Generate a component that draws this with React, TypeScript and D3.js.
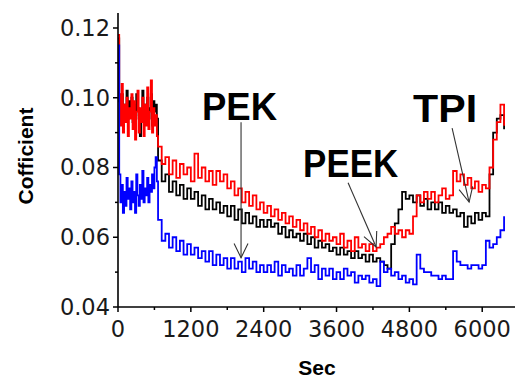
import * as d3 from "d3"

// sample instants (s)
const sampleTimes = [
  0, 20, 40, 60, 80, 100, 120, 140, 160, 180, 200,
  220, 240, 260, 280, 300, 320, 340, 360, 380, 400, 420,
  440, 460, 480, 500, 520, 540, 560, 580, 600, 620, 640,
  660, 720, 780, 840, 900, 960, 1020, 1080, 1140, 1200,
  1260, 1320, 1380, 1440, 1500, 1560, 1620, 1680, 1740, 1800,
  1860, 1920, 1980, 2040, 2100, 2160, 2220, 2280, 2340, 2400,
  2460, 2520, 2580, 2640, 2700, 2760, 2820, 2880, 2940, 3000,
  3060, 3120, 3180, 3240, 3300, 3360, 3420, 3480, 3540, 3600,
  3660, 3720, 3780, 3840, 3900, 3960, 4020, 4080, 4140, 4200,
  4260, 4320, 4380, 4440, 4500, 4560, 4620, 4680, 4740, 4800,
  4860, 4920, 4980, 5040, 5100, 5160, 5220, 5280, 5340, 5400,
  5460, 5520, 5580, 5640, 5700, 5760, 5820, 5880, 5940, 6000,
  6060, 6120, 6180, 6240, 6300, 6360,
]

const pekValues = [
  0.117, 0.099, 0.095, 0.101, 0.093, 0.098, 0.096, 0.102, 0.094, 0.099, 0.097,
  0.1, 0.093, 0.098, 0.095, 0.101, 0.097, 0.094, 0.089, 0.096, 0.102, 0.093,
  0.098, 0.095, 0.1, 0.094, 0.097, 0.101, 0.092, 0.099, 0.096, 0.098, 0.094,
  0.082, 0.076, 0.078, 0.073, 0.076, 0.072, 0.075, 0.071, 0.074, 0.071,
  0.073, 0.069, 0.072, 0.068, 0.071, 0.068, 0.07, 0.067, 0.069, 0.066,
  0.069, 0.065, 0.068, 0.064, 0.067, 0.064, 0.066, 0.063, 0.065, 0.063,
  0.065, 0.063, 0.064, 0.061, 0.063, 0.06, 0.062, 0.06, 0.061, 0.059,
  0.061, 0.058, 0.06, 0.057, 0.059, 0.057, 0.058, 0.056, 0.057, 0.055,
  0.057, 0.055, 0.056, 0.054, 0.056, 0.054, 0.055, 0.053, 0.055, 0.053,
  0.054, 0.053, 0.052, 0.051, 0.058, 0.064, 0.068, 0.073, 0.071, 0.072,
  0.07, 0.072, 0.069, 0.071, 0.068, 0.07, 0.068, 0.07, 0.067, 0.069,
  0.067, 0.068, 0.066, 0.067, 0.063, 0.066, 0.064, 0.067, 0.065, 0.067,
  0.066, 0.078, 0.09, 0.094, 0.095, 0.091,
]

const peekValues = [
  0.118, 0.101, 0.092, 0.104, 0.09, 0.098, 0.093, 0.1, 0.089, 0.097, 0.094,
  0.101, 0.091, 0.099, 0.088, 0.096, 0.102, 0.09, 0.097, 0.093, 0.1, 0.089,
  0.098, 0.092, 0.103, 0.091, 0.096, 0.105, 0.09, 0.097, 0.092, 0.095, 0.089,
  0.086, 0.081, 0.083, 0.078, 0.082, 0.077, 0.081, 0.078, 0.08, 0.076,
  0.084, 0.077, 0.08, 0.076, 0.079, 0.075, 0.079, 0.076, 0.078, 0.074,
  0.076, 0.072, 0.074, 0.07, 0.073, 0.069, 0.072, 0.068, 0.07, 0.067,
  0.069, 0.066, 0.068, 0.065, 0.067, 0.064, 0.066, 0.063, 0.065, 0.062,
  0.064, 0.061, 0.063, 0.06, 0.062, 0.059, 0.061, 0.059, 0.06, 0.058,
  0.061, 0.057, 0.059, 0.056, 0.06, 0.057, 0.058, 0.056, 0.058, 0.056,
  0.057, 0.058, 0.06, 0.061, 0.063, 0.061, 0.062, 0.06, 0.062, 0.061,
  0.066, 0.072, 0.07, 0.073, 0.071, 0.073, 0.07, 0.072, 0.074, 0.071,
  0.072, 0.079, 0.076, 0.078, 0.075, 0.077, 0.074, 0.076, 0.073, 0.075,
  0.074, 0.08, 0.088, 0.093, 0.098, 0.092,
]

const tpiValues = [
  0.115, 0.078, 0.07, 0.075, 0.067, 0.073, 0.069, 0.077, 0.071, 0.074, 0.068,
  0.076, 0.07, 0.073, 0.067, 0.078, 0.072, 0.069, 0.075, 0.071, 0.079, 0.07,
  0.074, 0.072, 0.077, 0.07, 0.075, 0.073, 0.078, 0.074, 0.08, 0.083, 0.076,
  0.065, 0.059, 0.061, 0.057, 0.06, 0.056, 0.059, 0.055, 0.058, 0.055,
  0.057, 0.054, 0.056, 0.053, 0.056, 0.052, 0.055, 0.052, 0.054, 0.051,
  0.054, 0.051, 0.053, 0.05, 0.054, 0.051, 0.053, 0.05, 0.052, 0.05,
  0.052, 0.05, 0.053, 0.049, 0.052, 0.05, 0.051, 0.049, 0.052, 0.049,
  0.051, 0.054, 0.05, 0.052, 0.048, 0.051, 0.049, 0.051, 0.048, 0.05,
  0.048, 0.051, 0.049, 0.05, 0.047, 0.049, 0.048, 0.049, 0.047, 0.048,
  0.046, 0.053, 0.05, 0.051, 0.049, 0.05, 0.048, 0.049, 0.047, 0.048,
  0.0465, 0.055, 0.051, 0.05, 0.05, 0.049, 0.049, 0.048, 0.049, 0.048,
  0.048, 0.056, 0.053, 0.052, 0.052, 0.051, 0.052, 0.052, 0.051, 0.052,
  0.059, 0.057, 0.058, 0.06, 0.062, 0.066,
]

const xMajorTicks = [0, 1200, 2400, 3600, 4800, 6000]
const xMinorTicks = [600, 1800, 3000, 4200, 5400]
const yMajorTicks = [0.04, 0.06, 0.08, 0.1, 0.12]
const yMinorTicks = [0.05, 0.07, 0.09, 0.11]

// label text, label anchor (t, v), arrow start and tip (t, v), label width px
const notes = [
  { label: "PEK", tx: 2002, ty: 0.0936, from: [2027, 0.093], to: [2027, 0.0541], w: 75 },
  { label: "PEEK", tx: 3832, ty: 0.0773, from: [3790, 0.0756], to: [4252, 0.0572], w: 95 },
  { label: "TPI", tx: 5389, ty: 0.093, from: [5504, 0.0913], to: [5784, 0.0701], w: 64 },
]

const series = [
  { name: "PEK", values: pekValues, color: "#000000" },
  { name: "PEEK", values: peekValues, color: "#ff0000" },
  { name: "TPI", values: tpiValues, color: "#0000ff" },
]

const W = 518
const H = 379

export default function App() {
  const x = d3.scaleLinear().domain([0, 6540]).range([118, 515])
  const y = d3.scaleLinear().domain([0.04, 0.1243]).range([307, 13])

  const line = (vals: number[]) =>
    d3
      .line<number>()
      .x((_, i) => x(sampleTimes[i]))
      .y((v) => y(v))
      .curve(d3.curveStepAfter)(vals) || ""

  const tickFont = { fontFamily: "'DejaVu Sans', sans-serif", fontSize: 22.5, fill: "#1a1a1a" }
  const boldFont = { fontFamily: "'Liberation Sans', Arial, sans-serif", fontWeight: 700 }

  const arrowHead = (fx: number, fy: number, tx: number, ty: number) => {
    const a = Math.atan2(ty - fy, tx - fx)
    const len = 16
    const spread = 0.45
    const p1 = [tx - len * Math.cos(a - spread), ty - len * Math.sin(a - spread)]
    const p2 = [tx - len * Math.cos(a + spread), ty - len * Math.sin(a + spread)]
    return `M${p1[0]},${p1[1]}L${tx},${ty}L${p2[0]},${p2[1]}`
  }

  return (
    <svg width={W} height={H} style={{ position: "absolute", left: 0, top: 0, background: "#fff" }}>
      {/* data */}
      {series.map((s) => (
        <path key={s.name} d={line(s.values)} fill="none" stroke={s.color} strokeWidth={1.8} />
      ))}

      {/* y axis */}
      <line x1={x(0)} x2={x(0)} y1={y.range()[1]} y2={y.range()[0]} stroke="#000" strokeWidth={1.6} />
      {yMajorTicks.map((t) => (
        <g key={t}>
          <line x1={x(0) - 5} x2={x(0)} y1={y(t)} y2={y(t)} stroke="#000" strokeWidth={1.5} />
          <text x={110} y={y(t) + 8} textAnchor="end" {...tickFont}>
            {t.toFixed(2)}
          </text>
        </g>
      ))}
      {yMinorTicks.map((t) => (
        <line key={t} x1={x(0) - 3} x2={x(0)} y1={y(t)} y2={y(t)} stroke="#000" strokeWidth={1.5} />
      ))}

      {/* x axis */}
      <line x1={x(0)} x2={x.range()[1]} y1={y(0.04)} y2={y(0.04)} stroke="#000" strokeWidth={1.6} />
      {xMajorTicks.map((t) => (
        <g key={t}>
          <line x1={x(t)} x2={x(t)} y1={y(0.04)} y2={y(0.04) + 5} stroke="#000" strokeWidth={1.5} />
          <text x={x(t)} y={337} textAnchor="middle" {...tickFont}>
            {t}
          </text>
        </g>
      ))}
      {xMinorTicks.map((t) => (
        <line key={t} x1={x(t)} x2={x(t)} y1={y(0.04)} y2={y(0.04) + 3} stroke="#000" strokeWidth={1.5} />
      ))}

      {/* axis titles */}
      <text x={317} y={375} textAnchor="middle" fontSize={21} {...boldFont}>
        Sec
      </text>
      <text transform="translate(33,156) rotate(-90)" textAnchor="middle" fontSize={21} {...boldFont}>
        Cofficient
      </text>

      {/* annotations */}
      {notes.map((n) => {
        const fx = x(n.from[0])
        const fy = y(n.from[1])
        const tx = x(n.to[0])
        const ty = y(n.to[1])
        return (
          <g key={n.label}>
            <line x1={fx} y1={fy} x2={tx} y2={ty} stroke="#333" strokeWidth={1.1} />
            <path d={arrowHead(fx, fy, tx, ty)} fill="none" stroke="#333" strokeWidth={1.1} />
            <text
              x={x(n.tx)}
              y={y(n.ty)}
              textAnchor="middle"
              fontSize={38}
              textLength={n.w}
              lengthAdjust="spacingAndGlyphs"
              {...boldFont}
            >
              {n.label}
            </text>
          </g>
        )
      })}
    </svg>
  )
}
